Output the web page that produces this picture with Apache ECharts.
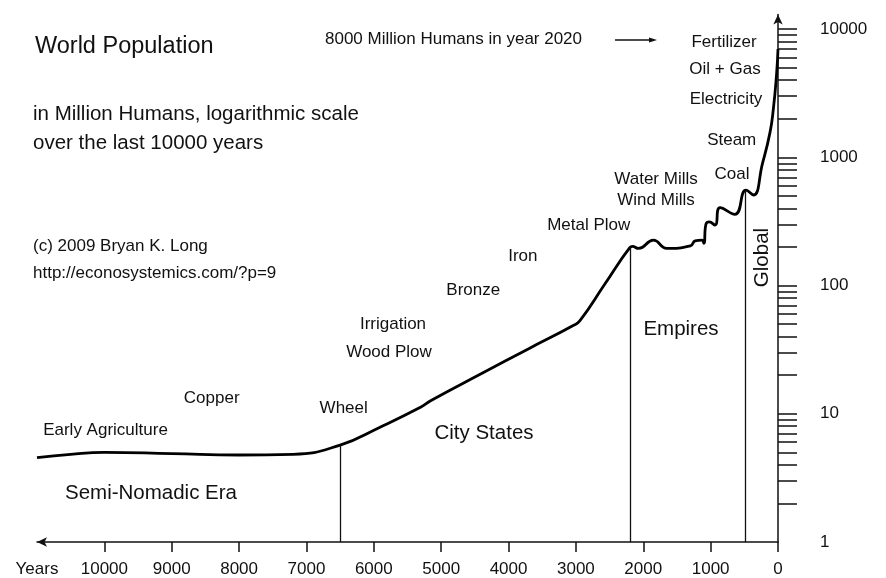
<!DOCTYPE html>
<html>
<head>
<meta charset="utf-8">
<script src="https://cdn.jsdelivr.net/npm/echarts@6/dist/echarts.min.js"></script>
<style>
html,body{margin:0;padding:0;background:#fff;}
#chart{width:886px;height:578px;}
</style>
</head>
<body>
<div id="chart"></div>
<script>
// ---- data ----
const years = [11000, 10500, 10000, 9000, 8000, 7200, 6500, 5900, 5300, 5150, 4400, 3700, 3040, 2940, 2570, 2200, 2160, 2070, 1850, 1650, 1300, 1230, 1130, 1100, 1070, 1020, 935, 860, 640, 475, 366, 230, 120, 70, 20, 0];
const population = [4.55, 4.83, 5.0, 4.89, 4.77, 4.83, 5.7, 7.9, 11.3, 12.7, 20.6, 32.2, 48.8, 53.3, 103, 198, 202, 195, 226, 195, 204, 223, 226, 214, 301, 314, 297, 406, 360, 556, 509, 900, 1553, 2355, 4540, 7000];
const dividerYears = [6500, 2200, 480];
const dividerTops = [5.7, 198, 550];
const xTickValues = [0, 1000, 2000, 3000, 4000, 5000, 6000, 7000, 8000, 9000, 10000];
const xLabelValues = [0, 1000, 2000, 3000, 4000, 5000, 6000, 7000, 8000, 9000, 10000, 11000];
const xAxisName = 'Years';
const yTickValues = [2,3,4,5,6,7,8,9,10,20,30,40,50,60,70,80,90,100,200,300,400,500,600,700,800,900,1000,2000,3000,4000,5000,6000,7000,8000,9000,10000];
const yLabelValues = [1, 10, 100, 1000, 10000];

const FONT = 'Liberation Sans, Arial, sans-serif';
const chart = echarts.init(document.getElementById('chart'), null, {renderer: 'canvas'});

function txt(text, x, y, size, align, rot) {
  return {
    type: 'text', x: x, y: y, rotation: rot || 0,
    style: {text: text, fontSize: size, fontFamily: FONT, fill: '#111',
            textAlign: align || 'center', textVerticalAlign: 'middle'}
  };
}

const graphics = [
  txt('World Population', 35, 47, 23.5, 'left'),
  txt('in Million Humans, logarithmic scale', 33, 114.5, 20.5, 'left'),
  txt('over the last 10000 years', 33, 143.5, 20.5, 'left'),
  txt('(c) 2009 Bryan K. Long', 33, 246.5, 17, 'left'),
  txt('http://econosystemics.com/?p=9', 33, 273.5, 17, 'left'),
  txt('8000 Million Humans in year 2020', 325, 39.5, 17, 'left'),
  txt('Fertilizer', 724, 42.5, 17),
  txt('Oil + Gas', 725, 69.7, 17),
  txt('Electricity', 726, 99.7, 17),
  txt('Steam', 731.7, 140.5, 17),
  txt('Coal', 732, 174, 17),
  txt('Water Mills', 656, 179.7, 17),
  txt('Wind Mills', 656, 200, 17),
  txt('Metal Plow', 588.7, 225.5, 17),
  txt('Iron', 522.8, 256.7, 17),
  txt('Bronze', 473.3, 290.3, 17),
  txt('Irrigation', 393, 324.5, 17),
  txt('Wood Plow', 389, 352, 17),
  txt('Wheel', 343.7, 408, 17),
  txt('Copper', 211.7, 398.8, 17),
  txt('Early Agriculture', 105.5, 430.3, 17),
  txt('Semi-Nomadic Era', 151, 493.3, 20.5),
  txt('City States', 484, 433.7, 20.5),
  txt('Empires', 681, 329, 20.5),
  txt('Global', 762, 257.5, 20.5, 'center', Math.PI / 2),
  {type: 'line', shape: {x1: 615, y1: 40, x2: 651, y2: 40}, style: {stroke: '#111', lineWidth: 1.3}},
  {type: 'polygon', shape: {points: [[657, 40], [649, 37.5], [649, 42.5]]}, style: {fill: '#111'}}
];

const option = {
  animation: false,
  backgroundColor: '#fff',
  grid: {left: 37, right: 108, top: 14.6, bottom: 34, containLabel: false},
  xAxis: {
    type: 'value', inverse: true, min: 0, max: 11000,
    axisLine: {show: true, onZero: false, symbol: ['arrow', 'none'], symbolSize: [7, 10],
               lineStyle: {color: '#111', width: 1.5}},
    axisTick: {show: true, length: 10, customValues: xTickValues, lineStyle: {color: '#111', width: 1.5}},
    axisLabel: {customValues: xLabelValues, margin: 19, fontSize: 17, fontFamily: FONT, color: '#111',
                formatter: v => (v === 11000 ? xAxisName : String(v))},
    splitLine: {show: false}
  },
  yAxis: {
    type: 'log', logBase: 10, min: 1, max: 13000, position: 'right',
    axisLine: {show: true, symbol: ['none', 'arrow'], symbolSize: [7, 10],
               lineStyle: {color: '#111', width: 1.5}},
    axisTick: {show: true, length: 19, inside: false, customValues: yTickValues, lineStyle: {color: '#111', width: 1.5}},
    axisLabel: {customValues: yLabelValues, margin: 42, fontSize: 17, fontFamily: FONT, color: '#111',
                formatter: v => String(Math.round(v))},
    splitLine: {show: false}
  },
  series: [{
    type: 'line',
    data: years.map((y, i) => [y, population[i]]),
    smooth: 0.5,
    showSymbol: false,
    lineStyle: {color: '#000', width: 2.8},
    markLine: {
      silent: true, symbol: ['none', 'none'], label: {show: false},
      lineStyle: {color: '#111', width: 1.3, type: 'solid'},
      data: dividerYears.map((y, i) => [{coord: [y, 1]}, {coord: [y, dividerTops[i]]}])
    }
  }],
  graphic: graphics
};
chart.setOption(option);
</script>
</body>
</html>
